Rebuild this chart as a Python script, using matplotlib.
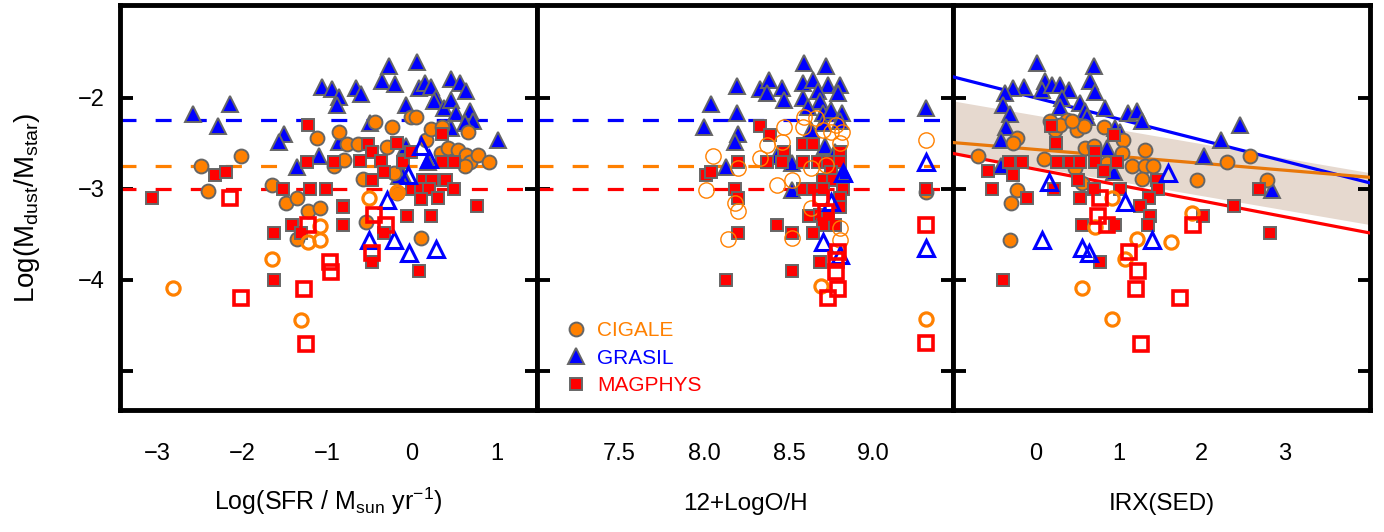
import matplotlib
matplotlib.use('Agg')
import matplotlib.pyplot as plt
from matplotlib.lines import Line2D
import numpy as np

plt.rcParams['font.family'] = ['Liberation Sans', 'DejaVu Sans']

# ---------------- data ----------------
# Panel 1: Log(SFR)
sfr_cig_x = [-2.49, -2.02, -2.40, -1.65, -1.48, -1.35, -1.12, -0.86, -0.92, -0.80, -0.76, -0.64, -0.58,
             -0.43, -0.24, -0.29, -0.01, 0.05, 0.17, 0.22, 0.36, 0.34, 0.42, 0.54, 0.66, 0.64, 0.68, 0.62,
             0.78, 0.91, -0.21, -0.17, -1.23, -1.08, -1.35, -0.54, 0.11]
sfr_cig_y = [-2.75, -2.64, -3.02, -2.96, -3.16, -3.10, -2.44, -2.37, -2.75, -2.68, -2.51, -2.51, -2.89,
             -2.27, -2.32, -2.54, -2.21, -2.21, -2.46, -2.34, -2.32, -2.61, -2.55, -2.57, -2.37, -2.63, -2.70, -2.75,
             -2.63, -2.70, -2.83, -3.05, -3.24, -3.21, -3.55, -3.36, -3.54]
sfr_cigo_x = [-1.65, -2.81, -1.31, -1.08, -1.08, -1.22, -0.51, -0.17]
sfr_cigo_y = [-3.77, -4.09, -4.44, -3.41, -3.56, -3.58, -3.10, -3.03]
sfr_gra_x = [-2.58, -2.14, -2.29, -1.51, -1.57, -1.36, -1.10, -1.06, -0.94, -0.86, -0.88, -0.66, -0.60,
             -0.27, -0.35, -0.20, -0.49, -0.86, -0.07, 0.06, 0.08, 0.15, 0.22, 0.28, 0.26, 0.38, 0.46, 0.57,
             0.64, 0.46, 0.52, 0.68, 0.72, 0.62, 0.46, 1.01, -0.07, 0.52, -0.11, 0.19, -0.15]
sfr_gra_y = [-2.18, -2.07, -2.31, -2.40, -2.49, -2.76, -2.64, -1.88, -1.90, -1.99, -2.08, -1.89, -1.96,
             -1.65, -1.82, -1.85, -2.28, -2.48, -2.08, -1.61, -1.89, -1.84, -1.88, -2.00, -2.04, -2.11, -1.79, -1.84,
             -1.93, -2.02, -2.17, -2.15, -2.26, -2.28, -2.33, -2.46, -2.53, -2.61, -2.85, -2.70, -2.86]
sfr_grao_x = [0.11, 0.20, -0.05, -0.29, -0.50, -0.21, -0.03, 0.28]
sfr_grao_y = [-2.53, -2.67, -2.85, -3.12, -3.56, -3.56, -3.71, -3.66]
sfr_mag_x = [-3.06, -2.32, -2.19, -1.22, -1.24, -1.52, -1.20, -1.01, -0.92, -0.81, -0.52, -0.47, -0.61,
             -0.37, -0.33, -0.47, -0.18, -0.10, -0.01, 0.13, 0.00, 0.11, 0.24, 0.20, 0.40, 0.36, 0.36, 0.50,
             0.50, 0.11, 0.31, 0.77, -1.63, -1.41, -1.31, -0.81, -0.81, -1.62, -0.33, -0.06, 0.22, 0.08,
             -0.47]
sfr_mag_y = [-3.10, -2.85, -2.81, -2.30, -2.70, -3.00, -3.00, -3.00, -2.70, -3.19, -2.51, -2.60, -2.69,
             -2.69, -2.81, -2.90, -2.50, -2.70, -2.59, -2.90, -3.00, -3.00, -2.90, -3.00, -2.90, -2.70, -2.40, -3.00,
             -2.70, -3.11, -3.10, -3.19, -3.49, -3.40, -3.49, -3.20, -3.40, -4.00, -3.49, -3.30, -3.30, -3.90,
             -3.80]
sfr_mago_x = [-2.14, -1.22, -0.96, -0.95, -2.01, -1.27, -1.25, -0.45, -0.30, -0.47]
sfr_mago_y = [-3.10, -3.40, -3.80, -3.91, -4.20, -4.10, -4.70, -3.29, -3.40, -3.70]

# Panel 2: 12+log(O/H)
oh_cig_x = [8.05, 8.01, 8.20, 8.37, 8.33, 8.47, 8.46, 8.43, 8.52, 8.58, 8.59, 8.63, 8.75, 8.81, 8.80,
            9.31, 8.18, 8.20, 8.14, 8.52, 8.63, 8.80, 8.80, 8.70, 8.78, 8.66, 8.72]
oh_cig_y = [-2.64, -3.01, -2.77, -2.52, -2.66, -2.32, -2.48, -2.96, -2.90, -2.32, -2.21, -2.77, -2.37, -2.37, -2.50,
            -2.46, -3.16, -3.24, -3.55, -3.54, -3.21, -3.43, -3.56, -2.35, -2.30, -2.22, -2.74]
oh_cigf_x = [9.31]
oh_cigf_y = [-3.04]
oh_cigo_x = [8.69, 9.31]
oh_cigo_y = [-4.07, -4.43]
oh_gra_x = [8.04, 8.00, 8.19, 8.19, 8.20, 8.18, 8.13, 8.33, 8.38, 8.37, 8.46, 8.47, 8.59, 8.72, 8.58,
            8.64, 8.73, 8.80, 8.79, 8.67, 8.58, 8.68, 8.61, 8.70, 8.75, 8.81, 8.70, 8.80, 8.63, 8.71,
            8.52, 8.43, 8.52, 9.31, 8.77, 8.82]
oh_gra_y = [-2.07, -2.32, -1.87, -2.17, -2.40, -2.49, -2.76, -1.90, -1.80, -1.95, -1.89, -2.02, -1.62, -1.65, -1.84,
            -1.80, -1.86, -1.86, -1.95, -1.93, -2.00, -2.04, -2.10, -2.17, -2.13, -2.17, -2.28, -2.26, -2.35, -2.53,
            -2.72, -2.64, -3.01, -2.11, -2.60, -2.82]
oh_grao_x = [9.31, 9.31, 8.70, 8.80, 8.82, 8.75]
oh_grao_y = [-2.70, -3.65, -3.58, -3.73, -2.83, -3.15]
oh_mag_x = [8.33, 8.39, 8.01, 8.04, 8.20, 8.18, 8.20, 8.47, 8.37, 8.46, 8.58, 8.64, 8.58, 8.67, 8.73,
            8.80, 8.80, 8.75, 8.70, 8.76, 8.58, 8.64, 8.70, 8.82, 8.80, 9.31, 8.80, 8.62, 8.68, 8.73,
            8.70, 8.77, 8.43, 8.52, 8.64, 8.20, 8.68, 8.52, 8.13]
oh_mag_y = [-2.31, -2.41, -2.85, -2.81, -2.70, -3.00, -3.10, -2.60, -2.70, -2.70, -2.51, -2.51, -2.70, -2.70, -2.70,
            -2.59, -2.70, -2.81, -2.90, -2.90, -3.00, -3.00, -3.00, -3.00, -3.10, -3.00, -3.20, -3.30, -3.29, -3.30,
            -3.40, -3.40, -3.40, -3.49, -3.49, -3.49, -3.80, -3.90, -4.00]
oh_mago_x = [8.69, 8.79, 8.78, 8.78, 8.79, 8.73, 9.31, 9.31, 8.72]
oh_mago_y = [-3.10, -3.69, -3.78, -3.91, -4.10, -4.20, -3.40, -4.69, -3.25]

# Panel 3: IRX(SED)
irx_cig_x = [-0.69, -0.22, -0.27, 0.10, 0.18, 0.24, 0.38, 0.50, 0.58, 0.82, 1.06, 0.60, 0.70, 1.04,
             1.16, 1.32, 1.32, 1.42, 1.28, 1.94, 2.31, 2.59, 2.79, 0.48, -0.22, -0.30, -0.31, 0.56, 0.30,
             0.44, 0.86]
irx_cig_y = [-2.64, -2.44, -2.50, -2.67, -2.26, -2.35, -2.24, -2.35, -2.31, -2.32, -2.46, -2.55, -2.53, -2.61,
             -2.75, -2.57, -2.75, -2.75, -2.89, -2.90, -2.71, -2.64, -2.90, -2.77, -3.01, -3.16, -3.56, -2.94, -2.30,
             -2.25, -2.72]
irx_cigo_x = [1.88, 1.22, 1.63, 1.08, 0.56, 0.92, 0.72, 0.92]
irx_cigo_y = [-3.26, -3.55, -3.58, -3.77, -4.09, -4.43, -3.42, -3.10]
irx_gra_x = [0.02, 0.70, 0.66, 0.72, 0.12, -0.14, -0.27, -0.37, -0.39, -0.31, -0.35, -0.41, 0.08, 0.20,
             0.30, 0.40, 0.32, 0.30, 0.54, 0.60, 0.62, 0.84, 1.12, 1.22, 1.28, 0.96, 1.02, 0.86, 0.94,
             2.23, 2.46, 2.03, 2.85, -0.41]
irx_gra_y = [-1.62, -1.65, -1.81, -1.94, -1.81, -1.88, -1.89, -1.95, -2.08, -2.18, -2.32, -2.46, -1.91, -1.86,
             -1.86, -1.91, -2.00, -2.10, -2.06, -2.15, -2.21, -2.11, -2.17, -2.15, -2.26, -2.33, -2.37, -2.55, -2.81,
             -2.46, -2.30, -2.64, -3.01, -2.75]
irx_grao_x = [0.16, 1.60, 1.08, 0.08, 0.56, 0.64, 1.40]
irx_grao_y = [-2.92, -2.83, -3.14, -3.56, -3.65, -3.71, -3.56]
irx_mag_x = [0.19, 0.94, 0.25, -0.32, -0.16, -0.57, -0.27, 0.26, 0.42, 0.54, 0.72, 0.72, 0.98, 0.82,
             0.51, 1.46, -0.53, 0.22, 0.70, 1.02, 1.47, 2.69, -0.10, 0.54, 1.37, 2.39, 1.26, 1.38, 2.02,
             0.56, 0.96, 1.36, 2.83, 0.78, -0.39]
irx_mag_y = [-2.31, -2.41, -2.50, -2.70, -2.70, -2.80, -2.85, -2.70, -2.70, -2.70, -2.59, -2.70, -2.70, -2.80,
             -2.90, -2.90, -3.00, -3.00, -3.00, -3.00, -3.00, -3.00, -3.10, -3.10, -3.10, -3.19, -3.19, -3.30, -3.30,
             -3.40, -3.40, -3.40, -3.49, -3.80, -4.00]
irx_mago_x = [0.78, 0.75, 0.86, 1.90, 1.13, 1.23, 1.21, 1.74, 1.27]
irx_mago_y = [-3.10, -3.30, -3.40, -3.40, -3.69, -3.90, -4.10, -4.20, -4.70]

# reference levels (left/middle panels): GRASIL, CIGALE, MAGPHYS
ref_levels = [-2.24, -2.75, -3.00]
# fits in the right panel (GRASIL, CIGALE, MAGPHYS): intercept, slope
fit_intercepts = [-2.00, -2.567, -2.784]
fit_slopes = [-0.232, -0.076, -0.174]
band_intercept_hi = -2.19
band_intercept_lo = -2.76
band_slope = -0.157

labels = ['CIGALE', 'GRASIL', 'MAGPHYS']
xlabels = [r'Log(SFR / M$_\mathregular{sun}$ yr$^\mathregular{-1}$)', '12+LogO/H', 'IRX(SED)']

# ---------------- style ----------------
ORANGE = '#FF8000'
BLUE = '#0000FF'
RED = '#FF0000'
EDGE = '#666666'
cols = [ORANGE, BLUE, RED]

fig = plt.figure(figsize=(13.84, 5.32), dpi=100)
L, R, T, B = 120/1384, 1370/1384, 1 - 5/532, 1 - 410/532
gs = fig.add_gridspec(1, 3, left=L, right=R, top=T, bottom=B, wspace=0)
axes = [fig.add_subplot(gs[0, i]) for i in range(3)]
xlims = [(-3.44, 1.47), (7.01, 9.47), (-0.99, 4.03)]
xticks = [[-3, -2, -1, 0, 1], [7.5, 8.0, 8.5, 9.0], [0, 1, 2, 3]]
xticklabels = [['\u22123', '\u22122', '\u22121', '0', '1'], ['7.5', '8.0', '8.5', '9.0'], ['0', '1', '2', '3']]


def filled(ax, x, y, m, c, ms):
    ax.plot(x, y, ls='none', marker=m, ms=ms, mfc=c, mec=EDGE, mew=1.4, zorder=4)


def hollow(ax, x, y, m, c, ms, mew):
    ax.plot(x, y, ls='none', marker=m, ms=ms, mfc='none', mec=c, mew=mew, zorder=5)


data = [
    (sfr_cig_x, sfr_cig_y, sfr_cigo_x, sfr_cigo_y, sfr_gra_x, sfr_gra_y, sfr_grao_x, sfr_grao_y,
     sfr_mag_x, sfr_mag_y, sfr_mago_x, sfr_mago_y),
    (oh_cig_x, oh_cig_y, oh_cigo_x, oh_cigo_y, oh_gra_x, oh_gra_y, oh_grao_x, oh_grao_y,
     oh_mag_x, oh_mag_y, oh_mago_x, oh_mago_y),
    (irx_cig_x, irx_cig_y, irx_cigo_x, irx_cigo_y, irx_gra_x, irx_gra_y, irx_grao_x, irx_grao_y,
     irx_mag_x, irx_mag_y, irx_mago_x, irx_mago_y),
]

for i, ax in enumerate(axes):
    (cx, cy, cox, coy, gx, gy, gox, goy, mx, my, mox, moy) = data[i]
    ax.set_xlim(*xlims[i])
    ax.set_ylim(-5.43, -0.98)
    if i < 2:
        for lev, c in zip(ref_levels, [BLUE, ORANGE, RED]):
            ax.axhline(lev, color=c, lw=2.3, dashes=(5, 6), zorder=2)
    else:
        xx = np.array(xlims[i])
        ax.fill_between(xx, band_intercept_lo + band_slope * xx, band_intercept_hi + band_slope * xx,
                        color='#E6D9CF', lw=0, zorder=1)
        for a, b, c in zip(fit_intercepts, fit_slopes, [BLUE, '#E8780A', RED]):
            ax.plot(xx, a + b * xx, color=c, lw=2.3, zorder=3)
    filled(ax, gx, gy, '^', BLUE, 12)
    if i == 1:
        hollow(ax, cx, cy, 'o', ORANGE, 11, 1.0)
        filled(ax, oh_cigf_x, oh_cigf_y, 'o', ORANGE, 10)
    else:
        filled(ax, cx, cy, 'o', ORANGE, 10)
    filled(ax, mx, my, 's', RED, 9)
    hollow(ax, gox, goy, '^', BLUE, 11.5, 2.2)
    hollow(ax, cox, coy, 'o', ORANGE, 9.5, 2.3)
    hollow(ax, mox, moy, 's', RED, 10.5, 2.6)

    ax.set_yticks([-2, -3, -4, -5])
    ax.set_xticks(xticks[i])
    ax.set_xticklabels(xticklabels[i])
    ax.tick_params(axis='x', length=0, pad=24, labelsize=17)
    ax.tick_params(axis='y', direction='in', length=9, width=2.8, left=True, right=True, labelsize=17, pad=11)
    if i == 0:
        ax.set_yticklabels(['\u22122', '\u22123', '\u22124', ''])
        ax.set_ylabel(r'Log(M$_\mathregular{dust}$/M$_\mathregular{star}$)', fontsize=20, labelpad=26)
    else:
        ax.tick_params(axis='y', labelleft=False)
    for s in ax.spines.values():
        s.set_linewidth(3.5)
    ax.set_xlabel(xlabels[i], fontsize=18 if i == 0 else 17.5)
    ax.xaxis.label.set_va('baseline')
    ax.xaxis.set_label_coords(0.5, -0.247)

handles = [Line2D([], [], ls='none', marker='o', ms=10, mfc=ORANGE, mec=EDGE, mew=1.4),
           Line2D([], [], ls='none', marker='^', ms=12, mfc=BLUE, mec=EDGE, mew=1.4),
           Line2D([], [], ls='none', marker='s', ms=9, mfc=RED, mec=EDGE, mew=1.4)]
axes[1].legend(handles, labels, loc='upper left', bbox_to_anchor=(0.05, 0.245), frameon=False,
               fontsize=15, labelcolor=cols, handlelength=0.8, handletextpad=0.6, labelspacing=0.4,
               borderpad=0)

fig.savefig('out.png', dpi=100)
